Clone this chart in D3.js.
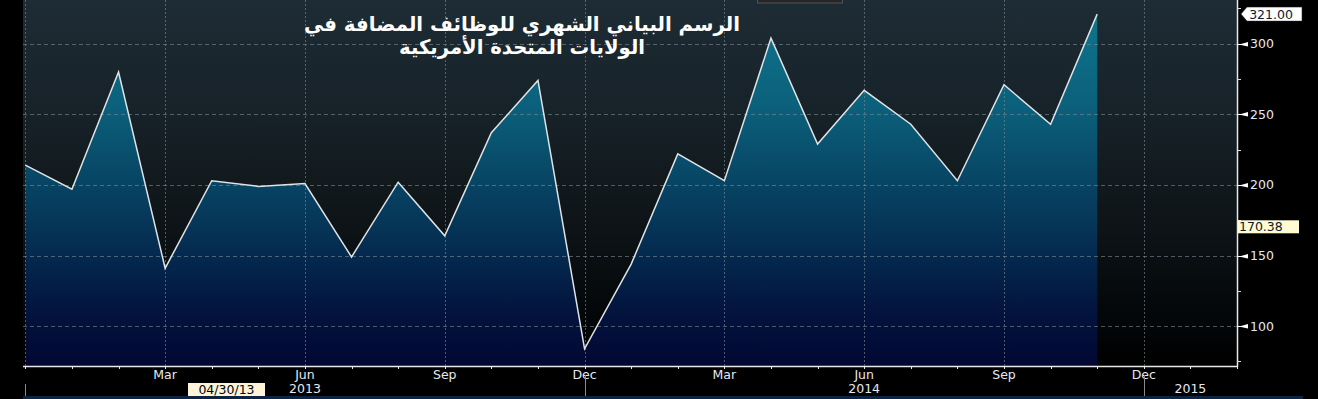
<!DOCTYPE html>
<html><head><meta charset="utf-8">
<script src="https://cdn.jsdelivr.net/npm/d3@7"></script>
<style>html,body{margin:0;padding:0;background:#000;overflow:hidden}</style>
</head><body>
<svg id="c" width="1318" height="399"></svg>
<script>
// ---- data ----
const months = ["Dec 2012","Jan 2013","Feb 2013","Mar 2013","Apr 2013","May 2013","Jun 2013","Jul 2013","Aug 2013","Sep 2013","Oct 2013","Nov 2013","Dec 2013","Jan 2014","Feb 2014","Mar 2014","Apr 2014","May 2014","Jun 2014","Jul 2014","Aug 2014","Sep 2014","Oct 2014","Nov 2014"];
const jobsAdded = [214,197,280,141,203,199,201,149,202,164,237,274,84,144,222,203,304,229,267,243,203,271,243,321];
const monthTickIdx = [3,6,9,12,15,18,21,24];
const monthTickLabels = ["Mar","Jun","Sep","Dec","Mar","Jun","Sep","Dec"];
const yearLabels = ["2013","2014","2015"];
const yearLabelPos = [6,18,25];
const yearSepIdx = [0,12,24];
const yTicks = [100,150,200,250,300];
const lastValue = 321.00;
const refValue = 170.38;
const cursorDate = "04/30/13";
const titleLines = ["الرسم البياني الشهري للوظائف المضافة في","الولايات المتحدة الأمريكية"];

const svg = d3.select("#c");
const L = 23, R = 1237, T = 0, B = 366;
const x = d3.scaleLinear().domain([-0.05, 26]).range([L, R]);
const y = d3.scaleLinear().domain([71.8, 331]).range([B, T]);

const defs = svg.append("defs");
const bg = defs.append("linearGradient").attr("id","bg").attr("gradientUnits","userSpaceOnUse")
  .attr("x1",0).attr("y1",T).attr("x2",0).attr("y2",B);
bg.append("stop").attr("offset","0").attr("stop-color","#1e2c35");
bg.append("stop").attr("offset","0.3").attr("stop-color","#172229");
bg.append("stop").attr("offset","0.55").attr("stop-color","#10171a");
bg.append("stop").attr("offset","0.8").attr("stop-color","#060a0d");
bg.append("stop").attr("offset","1").attr("stop-color","#000000");
const ag = defs.append("linearGradient").attr("id","ag").attr("gradientUnits","userSpaceOnUse")
  .attr("x1",0).attr("y1",T).attr("x2",0).attr("y2",B);
ag.append("stop").attr("offset","0").attr("stop-color","#0f7890");
ag.append("stop").attr("offset","0.3").attr("stop-color","#0b5f7a");
ag.append("stop").attr("offset","0.6").attr("stop-color","#063759");
ag.append("stop").attr("offset","0.85").attr("stop-color","#03143e");
ag.append("stop").attr("offset","1").attr("stop-color","#020733");

svg.append("rect").attr("x",0).attr("y",0).attr("width",1318).attr("height",399).attr("fill","#000");
svg.append("rect").attr("x",L).attr("y",T).attr("width",R-L).attr("height",B-T).attr("fill","url(#bg)");

// area + line
const area = d3.area().x((d,i)=>x(i)).y0(B).y1(d=>y(d));
svg.append("path").datum(jobsAdded).attr("d",area).attr("fill","url(#ag)");

// grid
const g = svg.append("g");
g.selectAll(".hg").data(yTicks).join("line")
  .attr("x1",L).attr("x2",R).attr("y1",d=>Math.round(y(d))+0.5).attr("y2",d=>Math.round(y(d))+0.5)
  .attr("stroke","#7d8c96").attr("stroke-width",1).attr("stroke-dasharray","4,3").attr("opacity",0.6);
g.selectAll(".vg").data([0].concat(monthTickIdx)).join("line")
  .attr("x1",d=>Math.round(x(d))+0.5).attr("x2",d=>Math.round(x(d))+0.5).attr("y1",T).attr("y2",B)
  .attr("stroke","#7d8c96").attr("stroke-width",1).attr("stroke-dasharray","2,2").attr("opacity",0.6);

const line = d3.line().x((d,i)=>x(i)).y(d=>y(d));
svg.append("path").datum(jobsAdded).attr("d",line).attr("fill","none")
  .attr("stroke","#dfe3e6").attr("stroke-width",1.5).attr("stroke-linejoin","miter");

// axes
svg.append("line").attr("x1",L).attr("x2",R+0.5).attr("y1",B+0.5).attr("y2",B+0.5).attr("stroke","#e8e8e8").attr("stroke-width",1.5);
svg.append("line").attr("x1",R+0.5).attr("x2",R+0.5).attr("y1",0).attr("y2",B+0.5).attr("stroke","#e8e8e8").attr("stroke-width",1.5);

// x ticks (monthly)
const allMonths = d3.range(0,27);
svg.selectAll(".xt").data(allMonths).join("line")
  .attr("x1",d=>Math.round(x(d))+0.5).attr("x2",d=>Math.round(x(d))+0.5).attr("y1",B).attr("y2",B+3)
  .attr("stroke","#e8e8e8");
const fontX = "DejaVu Sans, Verdana, sans-serif";
svg.selectAll(".xl").data(monthTickIdx).join("text")
  .attr("x",d=>x(d)).attr("y",379).attr("text-anchor","middle")
  .attr("font-family",fontX).attr("font-size",12.5).attr("fill","#e6e9f0")
  .text((d,i)=>monthTickLabels[i]);
svg.selectAll(".ys").data(yearSepIdx).join("line")
  .attr("x1",d=>Math.round(x(d))+0.5).attr("x2",d=>Math.round(x(d))+0.5)
  .attr("y1",(d,i)=>i===0?384:375).attr("y2",396).attr("stroke","#8a8a8a").attr("stroke-width",1);
svg.selectAll(".yl").data(yearLabelPos).join("text")
  .attr("x",d=>x(d)).attr("y",393).attr("text-anchor","middle")
  .attr("font-family",fontX).attr("font-size",12.5).attr("fill","#e6e9f0")
  .text((d,i)=>yearLabels[i]);

// cursor date label
svg.append("rect").attr("x",188).attr("y",383).attr("width",77).attr("height",13).attr("fill","#fdf3d8");
svg.append("text").attr("x",226.5).attr("y",394).attr("text-anchor","middle")
  .attr("font-family",fontX).attr("font-size",12.5).attr("fill","#000").text(cursorDate);

// y ticks
const minor = d3.range(75, 331, 50);
svg.selectAll(".ym").data(minor).join("line")
  .attr("x1",R).attr("x2",R+4).attr("y1",d=>Math.round(y(d))+0.5).attr("y2",d=>Math.round(y(d))+0.5)
  .attr("stroke","#dddddd");
svg.selectAll(".yarr").data(yTicks).join("path")
  .attr("d",d=>{const yy=Math.round(y(d))+0.5;return `M${R},${yy-0.5}L${R+4},${yy-0.5}L${R+11},${yy-2.5}L${R+11},${yy+2}L${R+4},${yy+0.5}L${R},${yy+0.5}Z`;})
  .attr("fill","#ffffff");
svg.selectAll(".ytl").data(yTicks).join("text")
  .attr("x",R+13).attr("y",d=>y(d)+4.5)
  .attr("font-family",fontX).attr("font-size",12.5).attr("fill","#e6e9f0")
  .text(d=>d);

// last value tag
const ly = y(lastValue);
svg.append("path").attr("d",`M${R+4},${ly}L${R+10},${ly-7}L1302,${ly-7}L1302,${ly+7}L${R+10},${ly+7}Z`)
  .attr("fill","#ffffff").attr("stroke","#222").attr("stroke-width",0.5);
svg.append("text").attr("x",1271).attr("y",ly+4.5).attr("text-anchor","middle")
  .attr("font-family",fontX).attr("font-size",12.5).attr("fill","#101830").text(lastValue.toFixed(2));
// ref value tag
const ry = y(refValue);
svg.append("rect").attr("x",R+1).attr("y",ry-6.5).attr("width",61).attr("height",13).attr("fill","#fffbd2");
svg.append("text").attr("x",R+2).attr("y",ry+4.5)
  .attr("font-family",fontX).attr("font-size",12.5).attr("fill","#101830").text(refValue.toFixed(2));

// top dark widget
svg.append("rect").attr("x",757.5).attr("y",-2).attr("width",85).attr("height",5).attr("fill","#262626").attr("stroke","#555").attr("stroke-width",1);

// bottom strip
svg.append("rect").attr("x",23).attr("y",396).attr("width",1280).attr("height",3).attr("fill","#0c2444");

// title
const tf = "DejaVu Sans, sans-serif";
const tw = [436, 246];
svg.selectAll(".tt").data(titleLines).join("text")
  .attr("x",522).attr("y",(d,i)=>31+i*23).attr("text-anchor","middle").attr("direction","rtl")
  .attr("font-family",tf).attr("font-weight","bold").attr("font-size",20).attr("fill","#ffffff")
  .text(d=>d)
  .each(function(d,i){ const w=this.getComputedTextLength(); if(Math.abs(w-tw[i])>4){ d3.select(this).attr("textLength",tw[i]).attr("lengthAdjust","spacingAndGlyphs"); } });
</script>
</body></html>
